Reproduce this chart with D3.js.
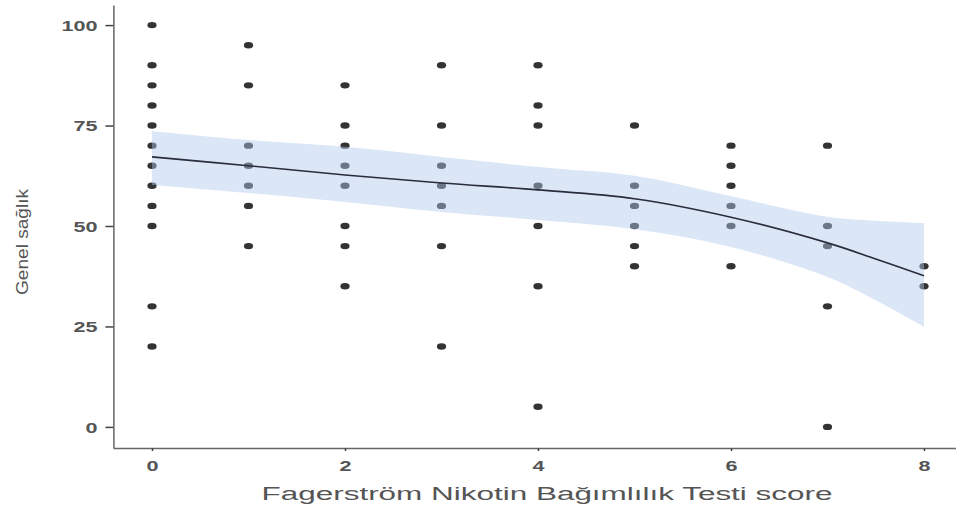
<!DOCTYPE html>
<html><head><meta charset="utf-8">
<script src="https://cdn.jsdelivr.net/npm/d3@7/dist/d3.min.js"></script>
<style>body{margin:0;background:#fff}svg{display:block}</style>
</head><body>
<svg id="c" width="956" height="511"></svg>
<script>
// Data
const xTicks = [0, 2, 4, 6, 8];
const yTicks = [0, 25, 50, 75, 100];
const pointsX = [
  0,0,0,0,0,0,0,0,0,0,0,0,
  1,1,1,1,1,1,1,
  2,2,2,2,2,2,2,2,
  3,3,3,3,3,3,3,
  4,4,4,4,4,4,4,
  5,5,5,5,5,5,
  6,6,6,6,6,6,
  7,7,7,7,7,
  8,8
];
const pointsY = [
  100,90,85,80,75,70,65,60,55,50,30,20,
  95,85,70,65,60,55,45,
  85,75,70,65,60,50,45,35,
  90,75,65,60,55,45,20,
  90,80,75,60,50,35,5,
  75,60,55,50,45,40,
  70,65,60,55,50,40,
  70,50,45,30,0,
  40,35
];
const fitX  = [0, 1, 2, 3, 4, 5, 6, 7, 7.5, 8];
const fitY  = [67.2, 65.0, 62.7, 60.7, 59.0, 56.8, 52.2, 45.8, 41.8, 37.6];
const upperY= [73.6, 71.4, 69.7, 67.2, 64.7, 62.5, 57.4, 52.3, 51.3, 50.7];
const lowerY= [60.2, 58.2, 56.0, 53.5, 51.5, 49.2, 44.8, 37.3, 31.5, 24.9];
const xTitle = "Fagerström Nikotin Bağımlılık Testi score";
const yTitle = "Genel sağlık";

const svg = d3.select("#c");
const x = d3.scaleLinear().domain([-0.4, 8.4]).range([113.4, 962.6]);
const y = d3.scaleLinear().domain([-5.25, 105]).range([448, 5]);

// points
svg.append("g").selectAll("ellipse")
  .data(pointsX.map((d,i)=>({x:d,y:pointsY[i]})))
  .join("ellipse")
  .attr("cx", d=>x(d.x)).attr("cy", d=>y(d.y))
  .attr("rx", 4.6).attr("ry", 3.2)
  .attr("fill", "#333");

// band
const fitData = fitX.map((d,i)=>({x:d, f:fitY[i], u:upperY[i], l:lowerY[i]}));
const curve = d3.curveCatmullRom.alpha(0.5);
svg.append("path").datum(fitData)
  .attr("d", d3.area().x(d=>x(d.x)).y0(d=>y(d.l)).y1(d=>y(d.u)).curve(curve))
  .attr("fill", "rgb(175,200,237)").attr("fill-opacity", 0.45);
svg.append("path").datum(fitData)
  .attr("d", d3.line().x(d=>x(d.x)).y(d=>y(d.f)).curve(curve))
  .attr("fill", "none").attr("stroke", "#2a2d3a").attr("stroke-width", 1.6);

// axes
const gy = svg.append("g").attr("transform", "translate(113.4,0)")
  .call(d3.axisLeft(y).tickValues(yTicks).tickSize(8).tickPadding(8).tickSizeOuter(0));
const gx = svg.append("g").attr("transform", "translate(0,448)")
  .call(d3.axisBottom(x).tickValues(xTicks).tickSize(3).tickPadding(8).tickSizeOuter(0));
[gx, gy].forEach(g=>{
  g.select(".domain").attr("stroke", "#666").attr("stroke-width", 1.5);
  g.selectAll(".tick line").attr("stroke", "#444").attr("stroke-width", 1.5);
  g.selectAll(".tick text").attr("fill", "#555").attr("font-family", "Liberation Sans, Arial, sans-serif")
    .attr("font-size", 15).attr("font-weight", "bold");
});
gy.selectAll(".tick text").attr("textLength", d=>String(d).length*12).attr("lengthAdjust","spacingAndGlyphs").attr("dy","0.36em");
gx.selectAll(".tick text").attr("textLength", 12).attr("lengthAdjust","spacingAndGlyphs").attr("dy","0.8em");

svg.append("text").attr("x", 547).attr("y", 500).attr("text-anchor", "middle")
  .attr("font-family", "Liberation Sans, Arial, sans-serif").attr("font-size", 18).attr("fill", "#555")
  .attr("textLength", 571).attr("lengthAdjust", "spacingAndGlyphs").text(xTitle);
svg.append("text").attr("transform", "translate(28,242) rotate(-90)").attr("text-anchor", "middle")
  .attr("font-family", "Liberation Sans, Arial, sans-serif").attr("font-size", 17).attr("fill", "#555")
  .attr("textLength", 106).attr("lengthAdjust", "spacingAndGlyphs").text(yTitle);
</script>
</body></html>
